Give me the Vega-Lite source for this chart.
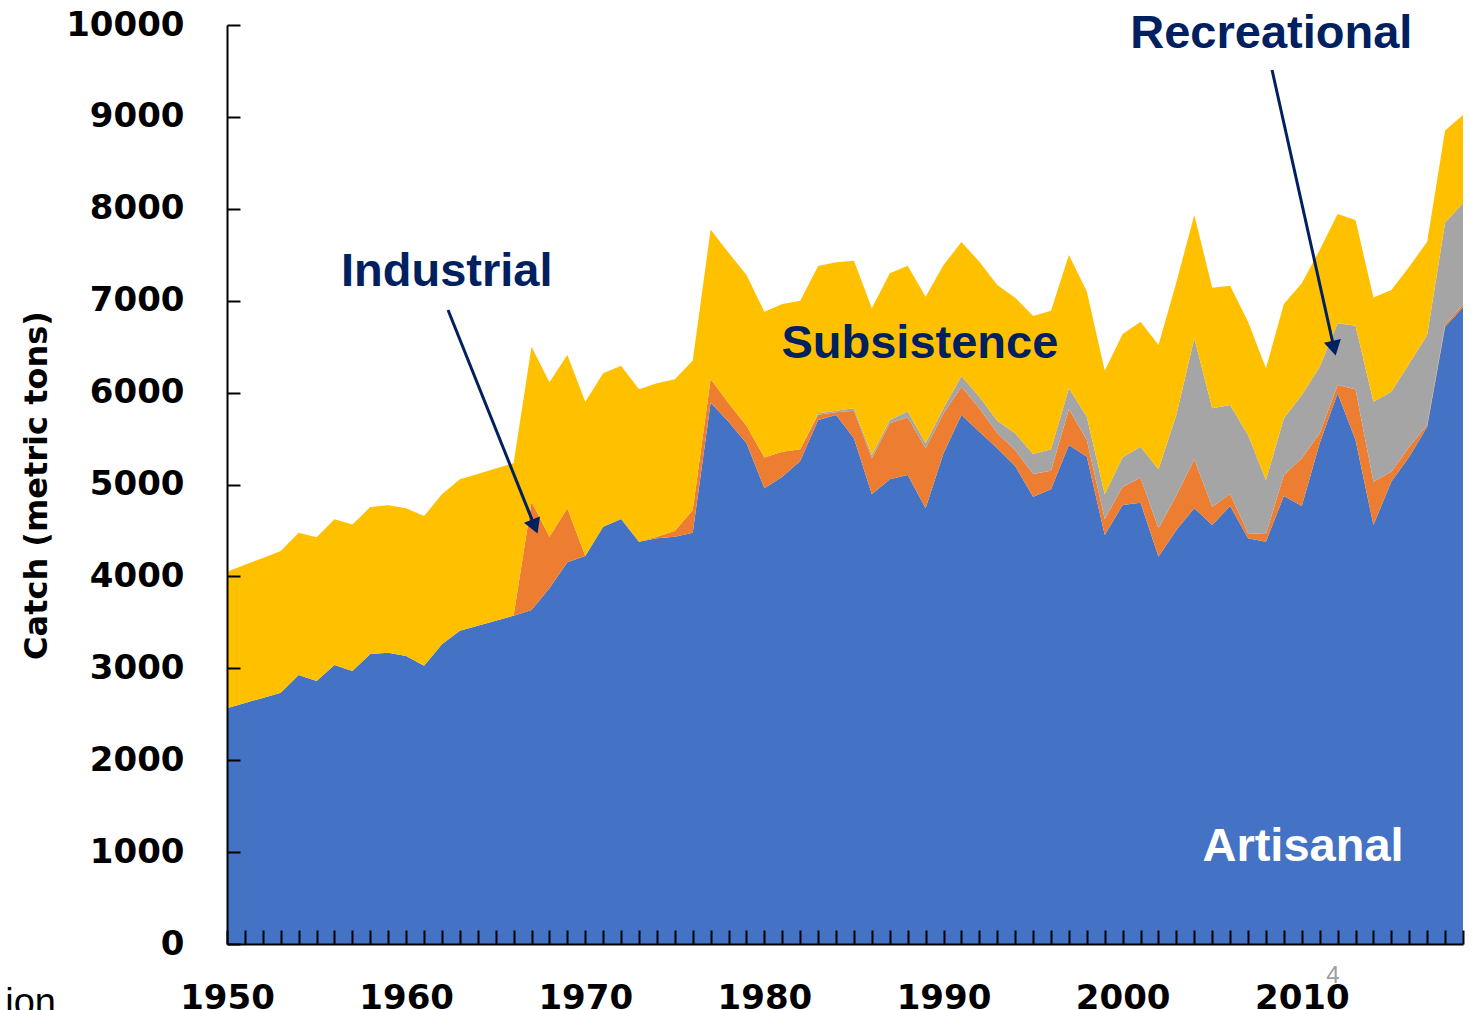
{
 "$schema": "https://vega.github.io/schema/vega-lite/v6.json",
 "width": 1236,
 "height": 919,
 "autosize": {"type": "none"},
 "padding": {"left": 227, "top": 25, "right": 10, "bottom": 66},
 "background": "white",
 "config": {"view": {"stroke": null}},
 "encoding": {
  "x": {"field": "year", "type": "quantitative",
   "scale": {"domain": [1950, 2019], "nice": false, "zero": false},
   "axis": {"title": null, "grid": false, "zindex": 1,
    "values": [1950,1951,1952,1953,1954,1955,1956,1957,1958,1959,1960,1961,1962,1963,1964,1965,1966,1967,1968,1969,1970,1971,1972,1973,1974,1975,1976,1977,1978,1979,1980,1981,1982,1983,1984,1985,1986,1987,1988,1989,1990,1991,1992,1993,1994,1995,1996,1997,1998,1999,2000,2001,2002,2003,2004,2005,2006,2007,2008,2009,2010,2011,2012,2013,2014,2015,2016,2017,2018,2019],
    "format": "d",
    "labelExpr": "datum.value % 10 === 0 ? datum.label : ''",
    "domainColor": "black", "domainWidth": 2,
    "tickColor": "black", "tickWidth": 2, "tickSize": -14,
    "labelPadding": 51, "labelFont": "DejaVu Sans", "labelFontWeight": "bold", "labelFontSize": 34,
    "labelColor": "black", "labelFlush": false, "labelOverlap": false, "labelBaseline": "top"}},
  "y": {"field": "catch", "type": "quantitative",
   "scale": {"domain": [0, 10000], "nice": false},
   "axis": {"title": "Catch (metric tons)", "grid": false, "zindex": 1,
    "values": [0,1000,2000,3000,4000,5000,6000,7000,8000,9000,10000],
    "format": "d",
    "domainColor": "black", "domainWidth": 2,
    "tickColor": "black", "tickWidth": 2, "tickSize": -13,
    "labelPadding": 56, "labelFont": "DejaVu Sans", "labelFontWeight": "bold", "labelFontSize": 34,
    "labelColor": "black", "labelOverlap": false, "labelFlush": false,
    "titleFont": "DejaVu Sans", "titleFontWeight": "bold", "titleFontSize": 32, "titleColor": "black",
    "titleAngle": -90, "titleX": -191, "titleY": 460, "titleBaseline": "middle", "titleAlign": "center"}}
 },
 "layer": [
  {
   "data": {"values": [
    {"year":1950,"sector":"Artisanal","catch":2565},{"year":1950,"sector":"Industrial","catch":0},{"year":1950,"sector":"Recreational","catch":0},{"year":1950,"sector":"Subsistence","catch":1486},
    {"year":1951,"sector":"Artisanal","catch":2622},{"year":1951,"sector":"Industrial","catch":0},{"year":1951,"sector":"Recreational","catch":0},{"year":1951,"sector":"Subsistence","catch":1504},
    {"year":1952,"sector":"Artisanal","catch":2678},{"year":1952,"sector":"Industrial","catch":0},{"year":1952,"sector":"Recreational","catch":0},{"year":1952,"sector":"Subsistence","catch":1523},
    {"year":1953,"sector":"Artisanal","catch":2735},{"year":1953,"sector":"Industrial","catch":0},{"year":1953,"sector":"Recreational","catch":0},{"year":1953,"sector":"Subsistence","catch":1541},
    {"year":1954,"sector":"Artisanal","catch":2927},{"year":1954,"sector":"Industrial","catch":0},{"year":1954,"sector":"Recreational","catch":0},{"year":1954,"sector":"Subsistence","catch":1549},
    {"year":1955,"sector":"Artisanal","catch":2862},{"year":1955,"sector":"Industrial","catch":0},{"year":1955,"sector":"Recreational","catch":0},{"year":1955,"sector":"Subsistence","catch":1563},
    {"year":1956,"sector":"Artisanal","catch":3036},{"year":1956,"sector":"Industrial","catch":0},{"year":1956,"sector":"Recreational","catch":0},{"year":1956,"sector":"Subsistence","catch":1585},
    {"year":1957,"sector":"Artisanal","catch":2971},{"year":1957,"sector":"Industrial","catch":0},{"year":1957,"sector":"Recreational","catch":0},{"year":1957,"sector":"Subsistence","catch":1595},
    {"year":1958,"sector":"Artisanal","catch":3156},{"year":1958,"sector":"Industrial","catch":0},{"year":1958,"sector":"Recreational","catch":0},{"year":1958,"sector":"Subsistence","catch":1599},
    {"year":1959,"sector":"Artisanal","catch":3170},{"year":1959,"sector":"Industrial","catch":0},{"year":1959,"sector":"Recreational","catch":0},{"year":1959,"sector":"Subsistence","catch":1603},
    {"year":1960,"sector":"Artisanal","catch":3134},{"year":1960,"sector":"Industrial","catch":0},{"year":1960,"sector":"Recreational","catch":0},{"year":1960,"sector":"Subsistence","catch":1607},
    {"year":1961,"sector":"Artisanal","catch":3029},{"year":1961,"sector":"Industrial","catch":0},{"year":1961,"sector":"Recreational","catch":0},{"year":1961,"sector":"Subsistence","catch":1628},
    {"year":1962,"sector":"Artisanal","catch":3261},{"year":1962,"sector":"Industrial","catch":0},{"year":1962,"sector":"Recreational","catch":0},{"year":1962,"sector":"Subsistence","catch":1632},
    {"year":1963,"sector":"Artisanal","catch":3409},{"year":1963,"sector":"Industrial","catch":0},{"year":1963,"sector":"Recreational","catch":0},{"year":1963,"sector":"Subsistence","catch":1648},
    {"year":1964,"sector":"Artisanal","catch":3463},{"year":1964,"sector":"Industrial","catch":0},{"year":1964,"sector":"Recreational","catch":0},{"year":1964,"sector":"Subsistence","catch":1652},
    {"year":1965,"sector":"Artisanal","catch":3518},{"year":1965,"sector":"Industrial","catch":0},{"year":1965,"sector":"Recreational","catch":0},{"year":1965,"sector":"Subsistence","catch":1655},
    {"year":1966,"sector":"Artisanal","catch":3572},{"year":1966,"sector":"Industrial","catch":0},{"year":1966,"sector":"Recreational","catch":0},{"year":1966,"sector":"Subsistence","catch":1659},
    {"year":1967,"sector":"Artisanal","catch":3634},{"year":1967,"sector":"Industrial","catch":1179},{"year":1967,"sector":"Recreational","catch":0},{"year":1967,"sector":"Subsistence","catch":1686},
    {"year":1968,"sector":"Artisanal","catch":3870},{"year":1968,"sector":"Industrial","catch":562},{"year":1968,"sector":"Recreational","catch":0},{"year":1968,"sector":"Subsistence","catch":1680},
    {"year":1969,"sector":"Artisanal","catch":4153},{"year":1969,"sector":"Industrial","catch":588},{"year":1969,"sector":"Recreational","catch":0},{"year":1969,"sector":"Subsistence","catch":1668},
    {"year":1970,"sector":"Artisanal","catch":4222},{"year":1970,"sector":"Industrial","catch":0},{"year":1970,"sector":"Recreational","catch":0},{"year":1970,"sector":"Subsistence","catch":1679},
    {"year":1971,"sector":"Artisanal","catch":4541},{"year":1971,"sector":"Industrial","catch":0},{"year":1971,"sector":"Recreational","catch":0},{"year":1971,"sector":"Subsistence","catch":1669},
    {"year":1972,"sector":"Artisanal","catch":4625},{"year":1972,"sector":"Industrial","catch":0},{"year":1972,"sector":"Recreational","catch":0},{"year":1972,"sector":"Subsistence","catch":1668},
    {"year":1973,"sector":"Artisanal","catch":4378},{"year":1973,"sector":"Industrial","catch":0},{"year":1973,"sector":"Recreational","catch":0},{"year":1973,"sector":"Subsistence","catch":1658},
    {"year":1974,"sector":"Artisanal","catch":4414},{"year":1974,"sector":"Industrial","catch":18},{"year":1974,"sector":"Recreational","catch":0},{"year":1974,"sector":"Subsistence","catch":1669},
    {"year":1975,"sector":"Artisanal","catch":4432},{"year":1975,"sector":"Industrial","catch":62},{"year":1975,"sector":"Recreational","catch":0},{"year":1975,"sector":"Subsistence","catch":1651},
    {"year":1976,"sector":"Artisanal","catch":4476},{"year":1976,"sector":"Industrial","catch":246},{"year":1976,"sector":"Recreational","catch":0},{"year":1976,"sector":"Subsistence","catch":1628},
    {"year":1977,"sector":"Artisanal","catch":5890},{"year":1977,"sector":"Industrial","catch":258},{"year":1977,"sector":"Recreational","catch":0},{"year":1977,"sector":"Subsistence","catch":1627},
    {"year":1978,"sector":"Artisanal","catch":5683},{"year":1978,"sector":"Industrial","catch":200},{"year":1978,"sector":"Recreational","catch":0},{"year":1978,"sector":"Subsistence","catch":1639},
    {"year":1979,"sector":"Artisanal","catch":5450},{"year":1979,"sector":"Industrial","catch":190},{"year":1979,"sector":"Recreational","catch":0},{"year":1979,"sector":"Subsistence","catch":1640},
    {"year":1980,"sector":"Artisanal","catch":4959},{"year":1980,"sector":"Industrial","catch":335},{"year":1980,"sector":"Recreational","catch":0},{"year":1980,"sector":"Subsistence","catch":1586},
    {"year":1981,"sector":"Artisanal","catch":5085},{"year":1981,"sector":"Industrial","catch":272},{"year":1981,"sector":"Recreational","catch":0},{"year":1981,"sector":"Subsistence","catch":1607},
    {"year":1982,"sector":"Artisanal","catch":5255},{"year":1982,"sector":"Industrial","catch":128},{"year":1982,"sector":"Recreational","catch":0},{"year":1982,"sector":"Subsistence","catch":1617},
    {"year":1983,"sector":"Artisanal","catch":5702},{"year":1983,"sector":"Industrial","catch":58},{"year":1983,"sector":"Recreational","catch":15},{"year":1983,"sector":"Subsistence","catch":1603},
    {"year":1984,"sector":"Artisanal","catch":5756},{"year":1984,"sector":"Industrial","catch":30},{"year":1984,"sector":"Recreational","catch":17},{"year":1984,"sector":"Subsistence","catch":1615},
    {"year":1985,"sector":"Artisanal","catch":5503},{"year":1985,"sector":"Industrial","catch":300},{"year":1985,"sector":"Recreational","catch":26},{"year":1985,"sector":"Subsistence","catch":1606},
    {"year":1986,"sector":"Artisanal","catch":4893},{"year":1986,"sector":"Industrial","catch":392},{"year":1986,"sector":"Recreational","catch":36},{"year":1986,"sector":"Subsistence","catch":1596},
    {"year":1987,"sector":"Artisanal","catch":5057},{"year":1987,"sector":"Industrial","catch":609},{"year":1987,"sector":"Recreational","catch":36},{"year":1987,"sector":"Subsistence","catch":1596},
    {"year":1988,"sector":"Artisanal","catch":5103},{"year":1988,"sector":"Industrial","catch":628},{"year":1988,"sector":"Recreational","catch":62},{"year":1988,"sector":"Subsistence","catch":1588},
    {"year":1989,"sector":"Artisanal","catch":4741},{"year":1989,"sector":"Industrial","catch":653},{"year":1989,"sector":"Recreational","catch":54},{"year":1989,"sector":"Subsistence","catch":1596},
    {"year":1990,"sector":"Artisanal","catch":5339},{"year":1990,"sector":"Industrial","catch":436},{"year":1990,"sector":"Recreational","catch":54},{"year":1990,"sector":"Subsistence","catch":1559},
    {"year":1991,"sector":"Artisanal","catch":5756},{"year":1991,"sector":"Industrial","catch":309},{"year":1991,"sector":"Recreational","catch":116},{"year":1991,"sector":"Subsistence","catch":1458},
    {"year":1992,"sector":"Artisanal","catch":5575},{"year":1992,"sector":"Industrial","catch":254},{"year":1992,"sector":"Recreational","catch":127},{"year":1992,"sector":"Subsistence","catch":1468},
    {"year":1993,"sector":"Artisanal","catch":5394},{"year":1993,"sector":"Industrial","catch":163},{"year":1993,"sector":"Recreational","catch":137},{"year":1993,"sector":"Subsistence","catch":1477},
    {"year":1994,"sector":"Artisanal","catch":5201},{"year":1994,"sector":"Industrial","catch":174},{"year":1994,"sector":"Recreational","catch":182},{"year":1994,"sector":"Subsistence","catch":1476},
    {"year":1995,"sector":"Artisanal","catch":4867},{"year":1995,"sector":"Industrial","catch":247},{"year":1995,"sector":"Recreational","catch":218},{"year":1995,"sector":"Subsistence","catch":1502},
    {"year":1996,"sector":"Artisanal","catch":4947},{"year":1996,"sector":"Industrial","catch":203},{"year":1996,"sector":"Recreational","catch":233},{"year":1996,"sector":"Subsistence","catch":1508},
    {"year":1997,"sector":"Artisanal","catch":5430},{"year":1997,"sector":"Industrial","catch":388},{"year":1997,"sector":"Recreational","catch":228},{"year":1997,"sector":"Subsistence","catch":1451},
    {"year":1998,"sector":"Artisanal","catch":5303},{"year":1998,"sector":"Industrial","catch":181},{"year":1998,"sector":"Recreational","catch":254},{"year":1998,"sector":"Subsistence","catch":1362},
    {"year":1999,"sector":"Artisanal","catch":4451},{"year":1999,"sector":"Industrial","catch":174},{"year":1999,"sector":"Recreational","catch":270},{"year":1999,"sector":"Subsistence","catch":1342},
    {"year":2000,"sector":"Artisanal","catch":4777},{"year":2000,"sector":"Industrial","catch":199},{"year":2000,"sector":"Recreational","catch":320},{"year":2000,"sector":"Subsistence","catch":1342},
    {"year":2001,"sector":"Artisanal","catch":4802},{"year":2001,"sector":"Industrial","catch":272},{"year":2001,"sector":"Recreational","catch":337},{"year":2001,"sector":"Subsistence","catch":1361},
    {"year":2002,"sector":"Artisanal","catch":4214},{"year":2002,"sector":"Industrial","catch":309},{"year":2002,"sector":"Recreational","catch":642},{"year":2002,"sector":"Subsistence","catch":1353},
    {"year":2003,"sector":"Artisanal","catch":4505},{"year":2003,"sector":"Industrial","catch":375},{"year":2003,"sector":"Recreational","catch":880},{"year":2003,"sector":"Subsistence","catch":1440},
    {"year":2004,"sector":"Artisanal","catch":4741},{"year":2004,"sector":"Industrial","catch":533},{"year":2004,"sector":"Recreational","catch":1317},{"year":2004,"sector":"Subsistence","catch":1342},
    {"year":2005,"sector":"Artisanal","catch":4559},{"year":2005,"sector":"Industrial","catch":200},{"year":2005,"sector":"Recreational","catch":1070},{"year":2005,"sector":"Subsistence","catch":1313},
    {"year":2006,"sector":"Artisanal","catch":4766},{"year":2006,"sector":"Industrial","catch":131},{"year":2006,"sector":"Recreational","catch":968},{"year":2006,"sector":"Subsistence","catch":1298},
    {"year":2007,"sector":"Artisanal","catch":4414},{"year":2007,"sector":"Industrial","catch":55},{"year":2007,"sector":"Recreational","catch":1070},{"year":2007,"sector":"Subsistence","catch":1233},
    {"year":2008,"sector":"Artisanal","catch":4378},{"year":2008,"sector":"Industrial","catch":83},{"year":2008,"sector":"Recreational","catch":588},{"year":2008,"sector":"Subsistence","catch":1215},
    {"year":2009,"sector":"Artisanal","catch":4875},{"year":2009,"sector":"Industrial","catch":228},{"year":2009,"sector":"Recreational","catch":617},{"year":2009,"sector":"Subsistence","catch":1244},
    {"year":2010,"sector":"Artisanal","catch":4766},{"year":2010,"sector":"Industrial","catch":519},{"year":2010,"sector":"Recreational","catch":689},{"year":2010,"sector":"Subsistence","catch":1215},
    {"year":2011,"sector":"Artisanal","catch":5448},{"year":2011,"sector":"Industrial","catch":109},{"year":2011,"sector":"Recreational","catch":725},{"year":2011,"sector":"Subsistence","catch":1270},
    {"year":2012,"sector":"Artisanal","catch":5992},{"year":2012,"sector":"Industrial","catch":91},{"year":2012,"sector":"Recreational","catch":671},{"year":2012,"sector":"Subsistence","catch":1189},
    {"year":2013,"sector":"Artisanal","catch":5484},{"year":2013,"sector":"Industrial","catch":552},{"year":2013,"sector":"Recreational","catch":692},{"year":2013,"sector":"Subsistence","catch":1150},
    {"year":2014,"sector":"Artisanal","catch":4559},{"year":2014,"sector":"Industrial","catch":471},{"year":2014,"sector":"Recreational","catch":871},{"year":2014,"sector":"Subsistence","catch":1135},
    {"year":2015,"sector":"Artisanal","catch":5030},{"year":2015,"sector":"Industrial","catch":109},{"year":2015,"sector":"Recreational","catch":871},{"year":2015,"sector":"Subsistence","catch":1106},
    {"year":2016,"sector":"Artisanal","catch":5303},{"year":2016,"sector":"Industrial","catch":108},{"year":2016,"sector":"Recreational","catch":907},{"year":2016,"sector":"Subsistence","catch":1052},
    {"year":2017,"sector":"Artisanal","catch":5629},{"year":2017,"sector":"Industrial","catch":19},{"year":2017,"sector":"Recreational","catch":979},{"year":2017,"sector":"Subsistence","catch":1015},
    {"year":2018,"sector":"Artisanal","catch":6717},{"year":2018,"sector":"Industrial","catch":23},{"year":2018,"sector":"Recreational","catch":1110},{"year":2018,"sector":"Subsistence","catch":1003},
    {"year":2019,"sector":"Artisanal","catch":6930},{"year":2019,"sector":"Industrial","catch":30},{"year":2019,"sector":"Recreational","catch":1100},{"year":2019,"sector":"Subsistence","catch":961}
   ]},
   "mark": {"type": "area", "interpolate": "linear"},
   "encoding": {
    "color": {"field": "sector", "type": "nominal",
     "scale": {"domain": ["Artisanal", "Industrial", "Recreational", "Subsistence"], "range": ["#4472C4", "#ED7D31", "#A5A5A5", "#FFC000"]},
     "legend": null},
    "order": {"field": "sector", "type": "ordinal", "sort": "ascending"}
   }
  },
  {
   "data": {"values": [
    {"year": 1962.34, "catch": 6899, "year2": 1967.18, "catch2": 4542},
    {"year": 2008.34, "catch": 9510, "year2": 2011.80, "catch2": 6483}
   ]},
   "mark": {"type": "rule", "color": "#002060", "strokeWidth": 3},
   "encoding": {
    "x2": {"field": "year2"},
    "y2": {"field": "catch2"}
   }
  },
  {
   "data": {"values": [{"year": 1967.18, "catch": 4542}]},
   "mark": {"type": "point", "shape": "triangle-down", "angle": -21.8, "filled": true, "color": "#002060", "opacity": 1, "size": 300, "strokeWidth": 0},
   "encoding": {}
  },
  {
   "data": {"values": [{"year": 2011.80, "catch": 6483}]},
   "mark": {"type": "point", "shape": "triangle-down", "angle": -12.6, "filled": true, "color": "#002060", "opacity": 1, "size": 300, "strokeWidth": 0},
   "encoding": {}
  },
  {
   "data": {"values": [
    {"year": 1962.27, "catch": 7160, "label": "Industrial"},
    {"year": 2008.3, "catch": 9750, "label": "Recreational"},
    {"year": 1988.68, "catch": 6378, "label": "Subsistence"}
   ]},
   "mark": {"type": "text", "font": "Liberation Sans", "fontWeight": "bold", "fontSize": 47, "color": "#002060", "align": "center", "baseline": "alphabetic"},
   "encoding": {"text": {"field": "label"}}
  },
  {
   "data": {"values": [{"year": 2010.07, "catch": 905, "label": "Artisanal"}]},
   "mark": {"type": "text", "font": "Liberation Sans", "fontWeight": "bold", "fontSize": 47, "color": "white", "align": "center", "baseline": "alphabetic"},
   "encoding": {"text": {"field": "label"}}
  },
  {
   "data": {"values": [{"year": 2011.74, "catch": -424, "label": "4"}]},
   "mark": {"type": "text", "font": "Liberation Sans", "fontSize": 24, "color": "#A0A0A0", "align": "center", "baseline": "alphabetic"},
   "encoding": {"text": {"field": "label"}}
  },
  {
   "data": {"values": [{"year": 1940.45, "catch": -773, "label": "ion"}]},
   "mark": {"type": "text", "font": "Liberation Sans", "fontSize": 38, "color": "black", "align": "right", "baseline": "alphabetic"},
   "encoding": {"text": {"field": "label"}}
  }
 ]
}
